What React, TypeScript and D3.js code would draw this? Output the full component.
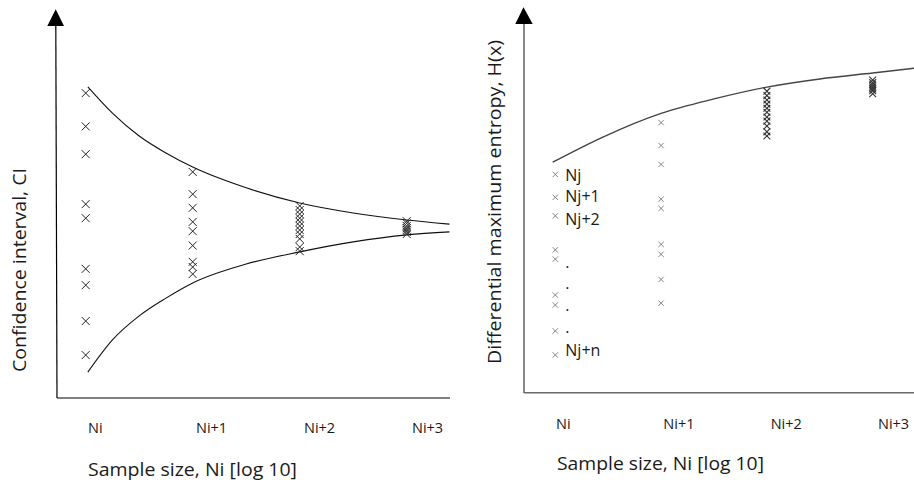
import React from 'react';
import * as d3 from 'd3';

// ---------- data ----------
const xCategories = ['Ni', 'Ni+1', 'Ni+2', 'Ni+3'];

// Left panel: confidence interval samples (arbitrary CI units, 0-100)
const ciNi = [82.4, 73.4, 65.9, 52.4, 48.6, 34.9, 30.5, 20.8, 11.6];
const ciNi1 = [61.1, 55.1, 51.4, 47.6, 45.1, 41.2, 36.8, 35.4, 33.5];
const ciNi2 = [51.9, 50.8, 49.7, 48.6, 47.6, 46.5, 45.4, 44.3, 43.0, 40.8, 39.7];
const ciNi3 = [47.8, 47.2, 46.5, 45.9, 45.4, 44.9, 44.3];
const ciSamples = [ciNi, ciNi1, ciNi2, ciNi3];

// Left panel envelope curves
const ciCurveX = [0.02, 0.25, 0.5, 0.75, 1, 1.5, 2, 2.5, 3, 3.4];
const ciUpper = [84.1, 77.0, 70.8, 66.2, 62.4, 56.8, 52.7, 50.0, 48.1, 47.0];
const ciLower = [7.0, 15.7, 22.2, 27.0, 31.1, 36.2, 39.5, 42.2, 44.1, 44.9];

// Right panel: differential maximum entropy samples
const hNi = [59.0, 52.8, 47.8, 38.6, 36.1, 26.4, 23.7, 16.7, 10.2];
const hNi1 = [73.0, 66.8, 61.7, 52.3, 49.8, 40.1, 37.4, 30.6, 24.2];
const hNi2 = [81.5, 80.3, 79.1, 78.0, 76.9, 75.8, 74.5, 73.4, 72.1, 70.5, 69.4];
const hNi3 = [84.5, 83.8, 83.2, 82.6, 82.1, 81.6, 80.8];
const hSamples = [hNi, hNi1, hNi2, hNi3];

// Right panel upper bound curve
const hCurveX = [-0.025, 0.45, 1, 1.5, 2, 2.5, 3, 3.4];
const hCurve = [62.3, 69.1, 75.5, 79.4, 82.6, 84.8, 86.4, 87.7];

// Right panel annotations for the Ni column
const njLabels = ['Nj', 'Nj+1', 'Nj+2', '.', '.', '.', '.', 'Nj+n'];
const njLabelValues = [57.3, 51.5, 45.3, 33.7, 28.1, 22.2, 16.2, 9.9];

const xTitle = 'Sample size, Ni [log 10]';
const leftYTitle = 'Confidence interval, CI';
const rightYTitle = 'Differential maximum entropy, H(x)';

// ---------- layout ----------
const W = 914;
const H = 483;
const FONT = "'Open Sans', 'Noto Sans', sans-serif";

const cross = (x: number, y: number, s: number) =>
  `M${x - s},${y - s}L${x + s},${y + s}M${x - s},${y + s}L${x + s},${y - s}`;

export default function App() {
  // left scales
  const xL = d3.scaleLinear().domain([0, 3]).range([85.7, 406.7]);
  const yL = d3.scaleLinear().domain([0, 100]).range([398, 28]);
  const xLabelL = d3.scaleLinear().domain([0, 3]).range([88, 412]);
  // right scales
  const xR = d3.scaleLinear().domain([0, 3]).range([555.3, 872.7]);
  const yR = d3.scaleLinear().domain([0, 100]).range([392.7, 22.7]);
  const xLabelR = d3.scaleLinear().domain([0, 3]).range([556, 878]);

  const lineL = d3
    .line<[number, number]>()
    .x((d) => xL(d[0]))
    .y((d) => yL(d[1]))
    .curve(d3.curveMonotoneX);
  const lineR = d3
    .line<[number, number]>()
    .x((d) => xR(d[0]))
    .y((d) => yR(d[1]))
    .curve(d3.curveMonotoneX);

  const upperPath = lineL(ciCurveX.map((x, i) => [x, ciUpper[i]] as [number, number])) || '';
  const lowerPath = lineL(ciCurveX.map((x, i) => [x, ciLower[i]] as [number, number])) || '';
  const hPath = lineR(hCurveX.map((x, i) => [x, hCurve[i]] as [number, number])) || '';

  const textFill = '#1a1a1a';

  return (
    <svg
      width={W}
      height={H}
      viewBox={`0 0 ${W} ${H}`}
      style={{ position: 'absolute', left: 0, top: 0, background: '#fff' }}
    >
      <rect x={0} y={0} width={W} height={H} fill="#fff" />

      {/* ===== LEFT PANEL ===== */}
      <g>
        <line x1={55.8} y1={24} x2={57} y2={398} stroke="#000" strokeWidth={1.2} />
        <polygon points="55.7,9.3 47.3,26 64,26" fill="#000" />
        <line x1={57} y1={398} x2={450} y2={398} stroke="#000" strokeWidth={1.2} />

        <path d={upperPath} fill="none" stroke="#111" strokeWidth={1.1} />
        <path d={lowerPath} fill="none" stroke="#111" strokeWidth={1.1} />

        {ciSamples.map((arr, ci) =>
          arr.map((v, k) => (
            <path
              key={`l${ci}-${k}`}
              d={cross(xL(ci), yL(v), 4)}
              stroke="#222"
              strokeWidth={1}
              fill="none"
            />
          ))
        )}

        {xCategories.map((c, i) => (
          <text
            key={`lt${i}`}
            x={xLabelL(i)}
            y={433}
            fontFamily={FONT}
            fontSize={14.5}
            fill={textFill}
          >
            {c}
          </text>
        ))}
        <text
          x={88}
          y={476}
          fontFamily={FONT}
          fontSize={18}
          fill={textFill}
          textLength={209}
          lengthAdjust="spacingAndGlyphs"
        >
          {xTitle}
        </text>
        <text
          transform="translate(26,372) rotate(-90)"
          x={0}
          y={0}
          fontFamily={FONT}
          fontSize={18}
          fill={textFill}
          textLength={204}
          lengthAdjust="spacingAndGlyphs"
        >
          {leftYTitle}
        </text>
      </g>

      {/* ===== RIGHT PANEL ===== */}
      <g>
        <line x1={524} y1={22} x2={524} y2={393} stroke="#6a6a6a" strokeWidth={1.6} />
        <polygon points="523.5,7.3 515.3,24 532.7,24" fill="#000" />
        <line x1={524} y1={392.7} x2={914} y2={392.7} stroke="#6a6a6a" strokeWidth={1.6} />

        <path d={hPath} fill="none" stroke="#444" strokeWidth={1.4} />

        {hSamples.map((arr, ci) =>
          arr.map((v, k) => (
            <path
              key={`r${ci}-${k}`}
              d={cross(xR(ci), yR(v), ci >= 2 ? 3.4 : 2.7)}
              stroke={ci >= 2 ? '#333' : '#777'}
              strokeWidth={ci >= 2 ? 1.1 : 0.9}
              fill="none"
            />
          ))
        )}

        {njLabels.map((t, k) => (
          <text
            key={`nj${k}`}
            x={xR(0) + 10}
            y={yR(njLabelValues[k])}
            fontFamily={FONT}
            fontSize={16}
            fill={textFill}
          >
            {t}
          </text>
        ))}

        {xCategories.map((c, i) => (
          <text
            key={`rt${i}`}
            x={xLabelR(i)}
            y={429}
            fontFamily={FONT}
            fontSize={14.5}
            fill={textFill}
          >
            {c}
          </text>
        ))}
        <text
          x={557}
          y={470}
          fontFamily={FONT}
          fontSize={18}
          fill={textFill}
          textLength={207}
          lengthAdjust="spacingAndGlyphs"
        >
          {xTitle}
        </text>
        <text
          transform="translate(501,364) rotate(-90)"
          x={0}
          y={0}
          fontFamily={FONT}
          fontSize={18}
          fill={textFill}
          textLength={324}
          lengthAdjust="spacingAndGlyphs"
        >
          {rightYTitle}
        </text>
      </g>
    </svg>
  );
}
